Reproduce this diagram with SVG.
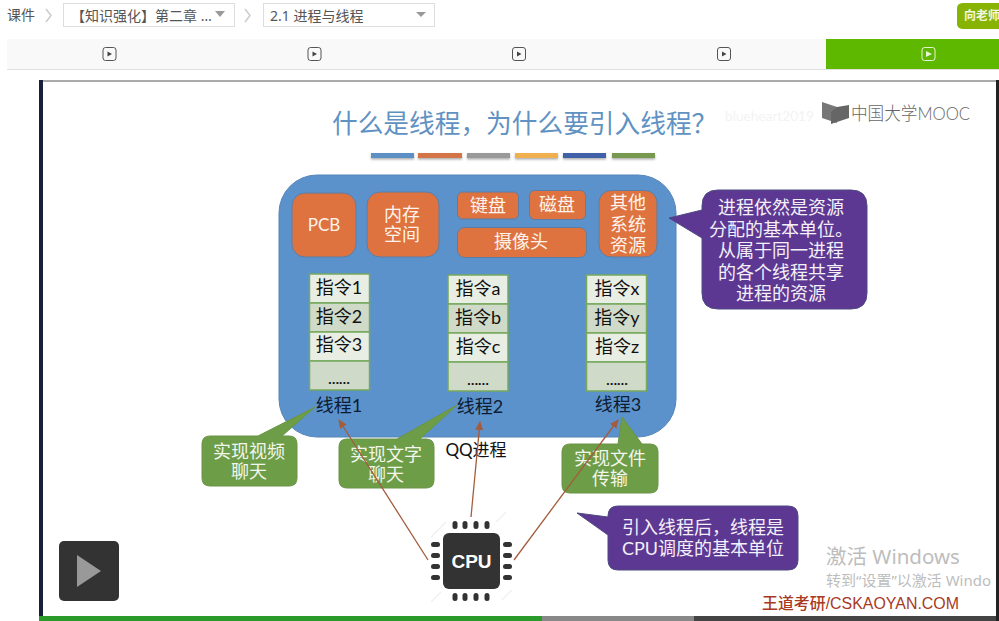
<svg xmlns="http://www.w3.org/2000/svg" width="999" height="621" viewBox="0 0 999 621">
<style>
text{font-family:Lato,"Noto Sans CJK SC",sans-serif}
.m{text-anchor:middle}
.ui{font-family:"Noto Sans","Noto Sans CJK SC",sans-serif;font-size:14px;fill:#555}
.drop{fill:#fff;stroke:#ddd;stroke-width:1}
.caret{fill:#999}
.chev{fill:none;stroke:#ccc;stroke-width:1.5}
.ico{fill:none;stroke:#555;stroke-width:1}
.bar{filter:url(#sh)}
.res{fill:#de7340;stroke:#5b7ea8;stroke-width:1}
.rt{font-size:18px;fill:#fdf3ec;text-anchor:middle}
.c1{fill:#e9eee5;stroke:#76a95c;stroke-width:1.5}
.c2{fill:#cfdac8;stroke:#76a95c;stroke-width:1.5}
.ct{font-size:18px;fill:#111;text-anchor:middle}
.dots{font-size:14px;fill:#111;text-anchor:middle;font-weight:700}
.lab{font-size:18px;fill:#0c1c33;text-anchor:middle}
.g{fill:#6e9d48;stroke:#6a9445;stroke-width:1}
.gt{font-size:18px;fill:#f2f6ec;text-anchor:middle}
.p{fill:#5d3893;stroke:#4e4a80;stroke-width:1}
.pt{font-size:18px;fill:#f4f0f8;text-anchor:middle}
.pin{fill:#333}
.hatch{stroke:#f1f1f1;stroke-width:1.5;fill:none}
.conn{fill:none;stroke:#a35c3c;stroke-width:1.3;marker-end:url(#ah)}
</style>
<defs>
<filter id="sh" x="-10%" y="-50%" width="120%" height="250%"><feDropShadow dx="0" dy="1.5" stdDeviation="1" flood-color="#888" flood-opacity=".7"/></filter>
<marker id="ah" markerWidth="9" markerHeight="8" refX="8" refY="4" orient="auto" markerUnits="userSpaceOnUse"><path d="M0 0L9 4L0 8Z" fill="#a35c3c"/></marker>
<g id="playicon"><rect x="-6.500" y="-6.500" width="13" height="13" rx="2.500" class="ico"/><path d="M-2-2.500L2.500 0L-2 2.500Z" fill="#444"/></g>
</defs>
<rect width="999" height="621" fill="#fff"/>
<g id="topbar">
<text x="7" y="20" class="ui">课件</text>
<path d="M46 9L51 15.500L46 22" class="chev"/>
<rect x="63.500" y="3.500" width="171" height="23" class="drop"/>
<text x="71" y="21" class="ui">【知识强化】第二章 …</text>
<path d="M215 11H225L220 17Z" class="caret"/>
<path d="M245 9L250 15.500L245 22" class="chev"/>
<rect x="263.500" y="3.500" width="171" height="23" class="drop"/>
<text x="270" y="21" class="ui">2.1 进程与线程</text>
<path d="M416 12H426L421 17Z" class="caret"/>
<path d="M964 3H999V29H964Q957 29 957 24V8Q957 3 964 3Z" fill="#87b404"/>
<text x="964" y="20" font-size="12" font-weight="700" fill="#f2f7e2">向老师</text>
</g>
<g id="tabs">
<rect x="7" y="39" width="992" height="30" rx="2" fill="#f9f9f9"/>
<rect x="7" y="69" width="992" height="1" fill="#e0e0e0"/>
<rect x="826" y="39" width="173" height="30" fill="#5fb800"/>
<use href="#playicon" x="109.500" y="54"/>
<use href="#playicon" x="314.500" y="54"/>
<use href="#playicon" x="519" y="54"/>
<use href="#playicon" x="724" y="54"/>
<rect x="922" y="47.500" width="13" height="13" rx="2.500" fill="none" stroke="#e8f6d8" stroke-width="1"/>
<path d="M926 51L932 54L926 57Z" fill="#e8f6d8"/>
</g>
<g id="frame">
<rect x="40" y="80" width="957" height="2" fill="#aaa"/>
<rect x="39" y="80" width="4" height="541" fill="#1a1f3c"/>
<rect x="996" y="80" width="3" height="541" fill="#222"/>
<rect x="39" y="616" width="503" height="5" fill="#2a9a2a"/>
<rect x="542" y="616" width="152" height="5" fill="#888"/>
<rect x="694" y="616" width="302" height="5" fill="#444"/>
</g>
<g id="title">
<text x="332" y="133" font-size="25.700" fill="#5f92c2">什么是线程，为什么要引入线程？</text>
<rect class="bar" x="371" y="153" width="43" height="5" fill="#5b8fc4"/>
<rect class="bar" x="418" y="153" width="44" height="5" fill="#d4744a"/>
<rect class="bar" x="467" y="153" width="43" height="5" fill="#999"/>
<rect class="bar" x="515" y="153" width="43" height="5" fill="#f0b050"/>
<rect class="bar" x="563" y="153" width="43" height="5" fill="#4060a8"/>
<rect class="bar" x="612" y="153" width="43" height="5" fill="#76984f"/>
</g>
<g id="watermark">
<text x="725" y="121" font-size="14" fill="#f3f3f3" textLength="89" lengthAdjust="spacingAndGlyphs">blueheart2019</text>
<path d="M822 102L837 107V123L822 118Z" fill="#777"/>
<path d="M849 105L837 107L831 112V124L849 118Z" fill="#666"/>
<text x="851" y="120" font-size="18" font-weight="300" fill="#666" textLength="119" lengthAdjust="spacingAndGlyphs">中国大学MOOC</text>
</g>
<g id="process">
<rect x="279" y="175" width="397" height="262" rx="38" fill="#5b92cc" stroke="#5585b8" stroke-width="1"/>
<text x="476" y="456" class="m" font-size="17" fill="#111">QQ进程</text>
</g>
<g id="pcb"><rect class="res" x="292" y="193" width="64" height="64" rx="13"/><text class="rt" x="324" y="231" style="font-size:17px">PCB</text></g>
<g id="memory"><rect class="res" x="367" y="192" width="72" height="65" rx="13"/><text class="rt"><tspan x="402" y="221">内存</tspan><tspan x="402" y="241">空间</tspan></text></g>
<g id="keyboard"><rect class="res" x="457.500" y="192" width="61" height="27" rx="5"/><text class="rt" x="488" y="212">键盘</text></g>
<g id="disk"><rect class="res" x="529.500" y="190.500" width="56" height="29" rx="5"/><text class="rt" x="557" y="211">磁盘</text></g>
<g id="camera"><rect class="res" x="457.500" y="227.500" width="129" height="30" rx="7"/><text class="rt" x="521" y="248">摄像头</text></g>
<g id="other"><rect class="res" x="599" y="190.500" width="58" height="66.500" rx="12"/><text class="rt"><tspan x="628" y="209">其他</tspan><tspan x="628" y="231">系统</tspan><tspan x="628" y="252">资源</tspan></text></g>
<g id="thread1">
<rect class="c1" x="309.500" y="274" width="60" height="29"/><rect class="c2" x="309.500" y="303" width="60" height="29"/><rect class="c1" x="309.500" y="332" width="60" height="29"/><rect class="c2" x="309.500" y="361" width="60" height="29"/>
<text class="ct" x="339" y="294">指令1</text><text class="ct" x="339" y="323">指令2</text><text class="ct" x="339" y="351">指令3</text><text class="dots" x="339" y="384">……</text>
<text class="lab" x="339" y="412">线程1</text>
</g>
<g id="thread2">
<rect class="c1" x="448" y="275" width="60" height="29"/><rect class="c2" x="448" y="304" width="60" height="29"/><rect class="c1" x="448" y="333" width="60" height="29"/><rect class="c2" x="448" y="362" width="60" height="29"/>
<text class="ct" x="478" y="295">指令a</text><text class="ct" x="478" y="324">指令b</text><text class="ct" x="478" y="353">指令c</text><text class="dots" x="478" y="385">……</text>
<text class="lab" x="480" y="413">线程2</text>
</g>
<g id="thread3">
<rect class="c1" x="586.500" y="275" width="60" height="29"/><rect class="c2" x="586.500" y="304" width="60" height="29"/><rect class="c1" x="586.500" y="333" width="60" height="29"/><rect class="c2" x="586.500" y="362" width="60" height="29"/>
<text class="ct" x="617" y="295">指令x</text><text class="ct" x="617" y="324">指令y</text><text class="ct" x="617" y="353">指令z</text><text class="dots" x="617" y="385">……</text>
<text class="lab" x="618" y="411">线程3</text>
</g>
<g id="note-video"><path class="g" d="M258 436L315 407L282 436H289Q297 436 297 444V478Q297 486 289 486H210Q202 486 202 478V444Q202 436 210 436Z"/><text class="gt"><tspan x="249" y="458">实现视频</tspan><tspan x="249" y="478">聊天</tspan></text></g>
<g id="note-text"><path class="g" d="M397 439L457 405L420 439H426Q434 439 434 447V480Q434 488 426 488H347Q339 488 339 480V447Q339 439 347 439Z"/><text class="gt"><tspan x="386" y="461">实现文字</tspan><tspan x="386" y="481">聊天</tspan></text></g>
<g id="note-file"><path class="g" d="M618 444L622 417L642 444H650Q658 444 658 452V485Q658 493 650 493H570Q562 493 562 485V452Q562 444 570 444Z"/><text class="gt"><tspan x="610" y="465">实现文件</tspan><tspan x="610" y="485">传输</tspan></text></g>
<g id="note-resource"><path class="p" d="M702 210V206Q702 190 718 190H851Q867 190 867 206V293Q867 309 851 309H718Q702 309 702 293V238L669 218Z"/>
<text class="pt"><tspan x="781" y="214">进程依然是资源</tspan><tspan x="781" y="236">分配的基本单位。</tspan><tspan x="781" y="257">从属于同一进程</tspan><tspan x="781" y="279">的各个线程共享</tspan><tspan x="781" y="300">进程的资源</tspan></text></g>
<g id="note-cpu"><path class="p" d="M608 517V516Q608 506 618 506H788Q798 506 798 516V560Q798 570 788 570H618Q608 570 608 560V535L577 513Z"/>
<text class="pt"><tspan x="703" y="534">引入线程后，线程是</tspan><tspan x="703" y="555">CPU调度的基本单位</tspan></text></g>
<g id="cpu">
<path class="hatch" d="M431 537L446 522M496 522L506 512M431 602L441 592M502 600L512 590"/>
<rect x="443" y="533" width="57" height="56" rx="6" fill="#333"/>
<rect class="pin" x="452.500" y="521" width="5" height="8" rx="2.500"/><rect class="pin" x="462.500" y="521" width="5" height="8" rx="2.500"/><rect class="pin" x="473.500" y="521" width="5" height="8" rx="2.500"/><rect class="pin" x="484.500" y="521" width="5" height="8" rx="2.500"/>
<rect class="pin" x="452.500" y="593" width="5" height="8" rx="2.500"/><rect class="pin" x="462.500" y="593" width="5" height="8" rx="2.500"/><rect class="pin" x="473.500" y="593" width="5" height="8" rx="2.500"/><rect class="pin" x="484.500" y="593" width="5" height="8" rx="2.500"/>
<rect class="pin" x="431" y="542" width="9" height="5" rx="2.500"/><rect class="pin" x="431" y="553" width="9" height="5" rx="2.500"/><rect class="pin" x="431" y="564" width="9" height="5" rx="2.500"/><rect class="pin" x="431" y="575" width="9" height="5" rx="2.500"/>
<rect class="pin" x="503" y="542" width="9" height="5" rx="2.500"/><rect class="pin" x="503" y="553" width="9" height="5" rx="2.500"/><rect class="pin" x="503" y="564" width="9" height="5" rx="2.500"/><rect class="pin" x="503" y="575" width="9" height="5" rx="2.500"/>
<text x="471.500" y="568" class="m" font-size="19" font-weight="700" fill="#fff" style="font-family:'Liberation Sans',sans-serif">CPU</text>
</g>
<g id="connectors">
<path class="conn" d="M428 560L339 420"/>
<path class="conn" d="M471 517L480 422"/>
<path class="conn" d="M514 560L618 420"/>
</g>
<g id="player"><rect x="59" y="541" width="60" height="60" rx="5" fill="#333"/><path d="M77 555L101 571L77 587Z" fill="#999"/></g>
<g id="overlay">
<text x="826" y="564" font-size="20.500" fill="#bdbdbd" style="font-family:'Noto Sans','Noto Sans CJK SC',sans-serif">激活 Windows</text>
<text x="826" y="586" font-size="15" fill="#bdbdbd" style="font-family:'Noto Sans','Noto Sans CJK SC',sans-serif">转到“设置”以激活 Windo</text>
<text x="762" y="609" font-size="16" font-weight="500" fill="#a8391f" textLength="197" lengthAdjust="spacingAndGlyphs" style="font-family:'Liberation Sans','Noto Sans CJK SC',sans-serif">王道考研/CSKAOYAN.COM</text>
</g>
</svg>
